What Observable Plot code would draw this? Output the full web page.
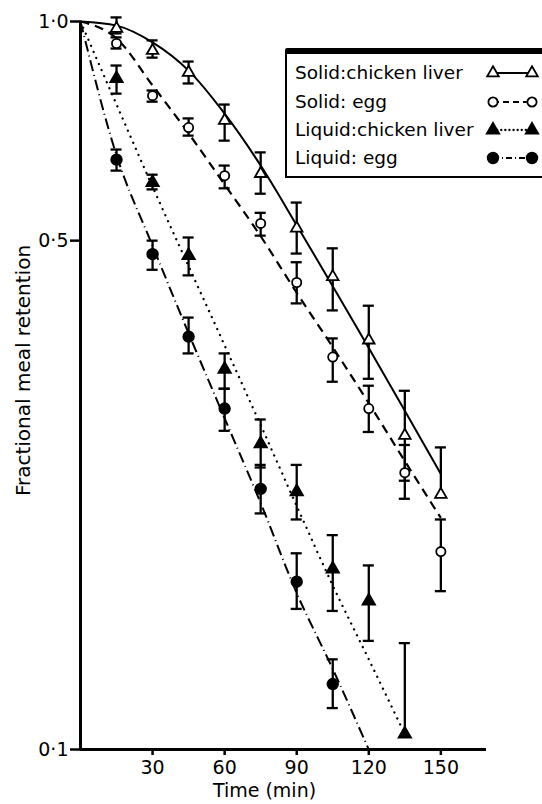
<!DOCTYPE html>
<html>
<head>
<meta charset="utf-8">
<script src="https://cdn.jsdelivr.net/npm/d3@7"></script>
<script src="https://cdn.jsdelivr.net/npm/@observablehq/plot@0.6"></script>
<style>
  body { margin: 0; background: white; }
  #wrap { position: relative; width: 542px; height: 804px; overflow: hidden; background: white; }
  #legend { position: absolute; left: 285px; top: 48px; }
</style>
</head>
<body>
<div id="wrap"></div>
<script>
// ---- data ----
const seriesNames = ["Solid:chicken liver", "Solid: egg", "Liquid:chicken liver", "Liquid: egg"];
const times = [15, 30, 45, 60, 75, 90, 105, 120, 135, 150];
const xTicks = [30, 60, 90, 120, 150];
const yTicks = [0.1, 0.5, 1.0];

// Solid: chicken liver (open triangles)
const solidLiverMean = [0.978, 0.912, 0.851, 0.731, 0.618, 0.520, 0.446, 0.365, 0.270, 0.224];
const solidLiverHigh = [1.013, 0.942, 0.881, 0.769, 0.661, 0.564, 0.488, 0.407, 0.311, 0.260];
const solidLiverLow  = [0.963, 0.892, 0.822, 0.686, 0.580, 0.480, 0.401, 0.323, 0.234, 0.224];

// Solid: egg (open circles)
const solidEggMean = [0.933, 0.791, 0.715, 0.614, 0.528, 0.438, 0.346, 0.294, 0.240, 0.187];
const solidEggHigh = [0.951, 0.804, 0.736, 0.634, 0.546, 0.467, 0.367, 0.316, 0.262, 0.207];
const solidEggLow  = [0.918, 0.776, 0.697, 0.590, 0.508, 0.410, 0.320, 0.273, 0.221, 0.165];

// Liquid: chicken liver (filled triangles), 15..135 min
const liquidLiverMean = [0.835, 0.601, 0.477, 0.333, 0.263, 0.226, 0.177, 0.160, 0.105];
const liquidLiverHigh = [0.870, 0.616, 0.505, 0.350, 0.284, 0.246, 0.197, 0.179, 0.140];
const liquidLiverLow  = [0.796, 0.588, 0.448, 0.313, 0.244, 0.207, 0.155, 0.141, 0.105];

// Liquid: egg (filled circles), 15..105 min
const liquidEggMean = [0.646, 0.479, 0.369, 0.294, 0.228, 0.170, 0.123];
const liquidEggHigh = [0.667, 0.500, 0.392, 0.313, 0.246, 0.186, 0.133];
const liquidEggLow  = [0.624, 0.456, 0.350, 0.274, 0.211, 0.156, 0.114];

// Fitted curves (read at 15-min steps)
const fitTimes = [0, 15, 30, 45, 60, 75, 90, 105, 120, 135, 150];
const solidLiverFit  = [1.0, 0.987, 0.936, 0.856, 0.747, 0.634, 0.525, 0.433, 0.356, 0.292, 0.239];
const solidEggFit    = [1.0, 0.948, 0.817, 0.702, 0.597, 0.507, 0.424, 0.357, 0.299, 0.249, 0.208];
const liquidLiverFit = [1.0, 0.769, 0.593, 0.461, 0.359, 0.279, 0.216, 0.168, 0.133, 0.105];
const liquidEggFit   = [1.0, 0.655, 0.492, 0.373, 0.285, 0.218, 0.164, 0.129, 0.100];

// ---- styles per series ----
const styles = [
  {symbol: "triangle", fill: "white", r: 4.3, dash: null, width: 2},
  {symbol: "circle", fill: "white", r: 4.6, dash: "9,6", width: 2.2},
  {symbol: "triangle", fill: "black", r: 4.6, dash: "0.1,6.5", width: 2.3},
  {symbol: "circle", fill: "black", r: 5.3, dash: "11,4,1,4", width: 2}
];

const pointSets = [
  [solidLiverMean, solidLiverLow, solidLiverHigh],
  [solidEggMean, solidEggLow, solidEggHigh],
  [liquidLiverMean, liquidLiverLow, liquidLiverHigh],
  [liquidEggMean, liquidEggLow, liquidEggHigh]
];
const fits = [solidLiverFit, solidEggFit, liquidLiverFit, liquidEggFit];

const points = [];
pointSets.forEach(([m, lo, hi], s) => m.forEach((v, i) =>
  points.push({series: s, t: times[i], v, lo: lo[i], hi: hi[i]})));
const fitRows = fits.map((f, s) => f.map((v, i) => ({series: s, t: fitTimes[i], v})));

const fmt = d => d.toFixed(1).replace(".", "\u00B7");
const capHalf = 2.3;
const FS = 19;

const marks = [];
// error bars
marks.push(Plot.ruleX(points, {x: "t", y1: "lo", y2: "hi", strokeWidth: 2.3}));
marks.push(Plot.ruleY(points.filter(d => d.hi > d.v), {y: "hi", x1: d => d.t - capHalf, x2: d => d.t + capHalf, strokeWidth: 2.3}));
marks.push(Plot.ruleY(points.filter(d => d.lo < d.v), {y: "lo", x1: d => d.t - capHalf, x2: d => d.t + capHalf, strokeWidth: 2.3}));
// fit lines
fitRows.forEach((rows, s) => {
  marks.push(Plot.line(rows, {x: "t", y: "v", curve: "monotone-x", stroke: "black",
    strokeWidth: styles[s].width, strokeDasharray: styles[s].dash, strokeLinecap: styles[s].dash === "0.1,6.5" ? "round" : "butt"}));
});
// points
styles.forEach((st, s) => {
  marks.push(Plot.dot(points.filter(d => d.series === s), {x: "t", y: "v", symbol: st.symbol, r: st.r,
    fill: st.fill, stroke: "black", strokeWidth: 1.8}));
});
// axes
marks.push(Plot.axisX({ticks: xTicks, tickSize: 6, tickPadding: 5, strokeWidth: 2.5, label: null, fontSize: FS}));
marks.push(Plot.axisY({ticks: yTicks, tickFormat: fmt, tickSize: 10, tickPadding: 2, strokeWidth: 2.5, label: null, fontSize: FS}));
marks.push(Plot.ruleX([0], {strokeWidth: 3}));
marks.push(Plot.ruleY([0.1], {strokeWidth: 3}));
marks.push(Plot.text(["Time (min)"], {frameAnchor: "bottom", dy: 47, dx: -19, fontSize: FS}));
marks.push(Plot.text(["Fractional meal retention"], {frameAnchor: "left", textAnchor: "middle", rotate: -90, dx: -57, dy: -15, fontSize: 20}));

const chart = Plot.plot({
  width: 542,
  height: 804,
  marginLeft: 80,
  marginRight: 56,
  marginTop: 21,
  marginBottom: 55,
  style: {fontFamily: "DejaVu Sans", fontSize: FS + "px", background: "white", color: "black"},
  x: {domain: [0, 169]},
  y: {type: "log", domain: [0.1, 1.0]},
  marks
});
const wrap = document.getElementById("wrap");
wrap.appendChild(chart);

// ---- legend (overlay box, as in the reference) ----
const lg = d3.select(wrap).append("svg").attr("id", "legend")
  .attr("width", 257).attr("height", 132)
  .style("font-family", "DejaVu Sans").style("font-size", "18.5px");
lg.append("rect").attr("x", 0).attr("y", 0).attr("width", 270).attr("height", 6).attr("rx", 2).attr("fill", "black");
lg.append("line").attr("x1", 1).attr("x2", 1).attr("y1", 2).attr("y2", 130).attr("stroke", "black").attr("stroke-width", 2);
lg.append("line").attr("x1", 0).attr("x2", 257).attr("y1", 129).attr("y2", 129).attr("stroke", "black").attr("stroke-width", 2);
const rowY = [25, 54, 82, 110];
seriesNames.forEach((name, s) => {
  const y = rowY[s];
  const st = styles[s];
  lg.append("text").attr("x", 10).attr("y", y).attr("dy", "0.35em").text(name);
  lg.append("line").attr("x1", 208).attr("x2", 247).attr("y1", y).attr("y2", y)
    .attr("stroke", "black").attr("stroke-width", st.width)
    .attr("stroke-dasharray", st.dash === "0.1,6.5" ? "0.1,4" : (st.dash === "9,6" ? "6,4" : (st.dash ? "6,3,1,3" : null)))
    .attr("stroke-linecap", st.dash === "0.1,6.5" ? "round" : "butt");
  const sym = d3.symbol().type(st.symbol === "triangle" ? d3.symbolTriangle : d3.symbolCircle).size(Math.PI * st.r * st.r);
  [208, 247].forEach(x => lg.append("path").attr("d", sym()).attr("transform", `translate(${x},${y})`)
    .attr("fill", st.fill).attr("stroke", "black").attr("stroke-width", 1.8));
});
</script>
</body>
</html>
